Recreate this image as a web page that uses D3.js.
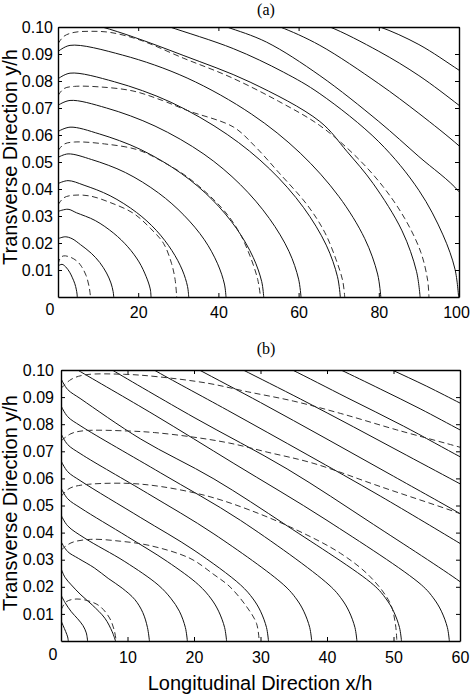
<!DOCTYPE html>
<html lang="en">
	<head>
		<meta charset="utf-8">
		<title>Contours (a) and (b)</title>
		<script src="https://cdn.jsdelivr.net/npm/d3@7"></script>
		<style type="text/css">
			body {
				margin: 0;
				background-color: #ffffff;
			}
			.tick text {
				font-family: "Liberation Sans", Arial, sans-serif;
				font-size: 16px;
				fill: #000;
			}
			.axis path, .axis line {
				stroke: #000;
			}
		</style>
	</head>
	<body>
		<script type="text/javascript">

			//Width and height
			var w = 470;
			var h = 696;

			//Tick labels
			var yTicks = [0.01, 0.02, 0.03, 0.04, 0.05, 0.06, 0.07, 0.08, 0.09, 0.10];
			var xTicksA = [0, 20, 40, 60, 80, 100];
			var xTicksB = [0, 10, 20, 30, 40, 50, 60];

			//Panel (a): solid contours, [x/h, y/h]
			var solidA = [
				[[0,0.0115],[1,0.0121],[1.9,0.0112],[2.9,0.0092],[3.6,0.0071],[4.2,0.0049],[4.55,0.0029],[4.75,0.0011],[4.8,0]],
				[[0,0.0216],[1.8,0.0223],[3.5,0.0216],[5.6,0.0194],[8.3,0.0162],[10.4,0.0128],[12.1,0.0089],[13.2,0.0052],[13.75,0.002],[13.9,0]],
				[[0,0.0317],[2.5,0.0325],[4.6,0.0312],[9.3,0.0283],[13.9,0.0236],[17.4,0.0186],[20.2,0.013],[22,0.0075],[23,0.003],[23.2,0]],
				[[0,0.042],[2.5,0.0431],[6.5,0.0414],[13,0.0375],[19.6,0.0313],[24.5,0.0247],[28.4,0.0172],[31,0.01],[32.3,0.0039],[32.6,0]],
				[[0,0.0517],[2.5,0.053],[8.4,0.0509],[16.8,0.0461],[25.1,0.0385],[31.4,0.0303],[36.5,0.0212],[39.8,0.0123],[41.5,0.0048],[41.9,0]],
				[[0,0.0613],[3,0.0629],[10.3,0.0604],[20.5,0.0547],[30.8,0.0457],[38.5,0.036],[44.6,0.0252],[48.7,0.0146],[50.8,0.0057],[51.3,0]],
				[[0,0.071],[3,0.0728],[12.1,0.07],[24.2,0.0633],[36.4,0.0529],[45.5,0.0416],[52.7,0.0291],[57.6,0.0169],[60,0.0066],[60.6,0]],
				[[0,0.0808],[3,0.0829],[14.1,0.0797],[28.2,0.0721],[42.2,0.0602],[52.8,0.0474],[61.2,0.0332],[66.9,0.0192],[69.7,0.0075],[70.4,0]],
				[[0,0.0909],[3,0.0932],[16.1,0.0896],[32.2,0.0811],[48.3,0.0677],[60.4,0.0533],[70,0.0373],[76.5,0.0216],[79.7,0.0085],[80.5,0]],
				[[4,0.1025],[11,0.1],[18.8,0.0963],[31.2,0.0895],[47.9,0.0796],[65.3,0.065],[72,0.054],[78.6,0.042],[85.8,0.0245],[89.4,0.0095],[90.3,0]],
				[[24,0.102],[27.9,0.1],[43.7,0.092],[56.2,0.0833],[65.3,0.0753],[80,0.0575],[90,0.0395],[96,0.023],[99,0.0103],[99.9,0]],
				[[38,0.102],[42.1,0.1],[52,0.0944],[65.3,0.082],[80,0.065],[90,0.052],[100,0.039],[105,0.027]],
				[[51,0.102],[55.4,0.1],[65.3,0.0932],[80,0.079],[90,0.068],[100,0.056],[105,0.049]],
				[[63,0.102],[67.8,0.1],[80,0.091],[90,0.082],[100,0.071],[105,0.065]],
				[[75,0.102],[80.3,0.1],[90,0.0935],[100,0.084],[105,0.079]]
			];

			//Panel (a): dashed contours
			var dashedA = [
				[[0,0.0119],[0.5,0.0142],[1.3,0.0152],[3,0.0148],[4.8,0.0132],[5.9,0.0112],[7,0.008],[7.8,0.0035],[8.1,0]],
				[[0,0.0341],[1.5,0.0368],[4,0.0377],[8,0.0374],[13,0.035],[18.8,0.031],[23,0.0255],[26.3,0.0199],[28.3,0.0125],[29.2,0.0065],[29.6,0]],
				[[0,0.0542],[1.5,0.0566],[4.1,0.0574],[11.6,0.0567],[19.9,0.0545],[26,0.0502],[32.4,0.0443],[40.7,0.0332],[45,0.0245],[47.8,0.0155],[49.8,0.0065],[50.5,0]],
				[[0,0.0746],[1.5,0.0772],[4.1,0.078],[10.5,0.0778],[18.7,0.0763],[26,0.0728],[32.4,0.069],[43.7,0.063],[49,0.056],[55,0.0462],[62.2,0.034],[66.5,0.024],[69.3,0.014],[71,0.006],[71.5,0]],
				[[0,0.0938],[1.5,0.0966],[4,0.098],[8,0.0984],[13,0.098],[20.4,0.0952],[31.2,0.0885],[42.9,0.0815],[55,0.0725],[65.3,0.0635],[74,0.0525],[81,0.041],[86.5,0.029],[90.5,0.0165],[92.2,0.006],[92.5,0]]
			];

			//Panel (b): solid contours
			var solidB = [
				[[0,0.0075],[0.3,0.0058],[0.7,0.0035],[1,0.0015],[1.1,0]],
				[[0,0.017],[0.6,0.0142],[1.55,0.0108],[2.5,0.0082],[3.3,0.0057],[3.8,0.003],[4,0]],
				[[0,0.0268],[0.6,0.0235],[1.55,0.0207],[3,0.017],[4.7,0.0133],[6.6,0.0084],[7.7,0.0034],[8.2,0]],
				[[0,0.0367],[1,0.033],[2.6,0.0305],[5,0.027],[7.1,0.0231],[9.2,0.0195],[11.1,0.0153],[12.3,0.0105],[13,0.005],[13.3,0]],
				[[0,0.0465],[1,0.0425],[3.6,0.0379],[9.6,0.0293],[14.6,0.0207],[16.5,0.0158],[17.8,0.011],[18.7,0.005],[19,0]],
				[[0,0.0565],[1,0.0525],[3,0.049],[10,0.0385],[16,0.0293],[20.7,0.0207],[22.6,0.0155],[23.7,0.011],[24.6,0.005],[24.9,0]],
				[[0,0.0665],[1,0.0625],[3,0.059],[12,0.0455],[20,0.0335],[27,0.0207],[28.9,0.0155],[30,0.011],[30.9,0.005],[31.2,0]],
				[[0,0.0765],[1,0.0725],[3,0.069],[13,0.0545],[23,0.0395],[33.5,0.0207],[35.4,0.0155],[36.5,0.011],[37.4,0.005],[37.7,0]],
				[[0,0.0868],[1,0.0828],[3,0.0793],[15,0.062],[27,0.0445],[40.3,0.0207],[42.2,0.0155],[43.3,0.011],[44.2,0.005],[44.5,0]],
				[[0,0.0968],[1,0.0928],[3,0.0893],[12,0.0745],[23,0.0598],[34,0.0425],[47,0.0207],[48.9,0.0155],[50,0.011],[50.9,0.005],[51.2,0]],
				[[0.5,0.103],[2.5,0.1],[14,0.0835],[26,0.0655],[40,0.0445],[54.2,0.0207],[56.1,0.0155],[57.2,0.011],[58.1,0.005],[58.4,0]],
				[[5.7,0.103],[7.7,0.1],[20,0.0825],[34,0.0635],[47,0.043],[60,0.0219],[62,0.018]],
				[[12,0.103],[14,0.1],[25,0.0852],[37,0.0688],[48,0.0535],[60,0.036],[62,0.033]],
				[[18.5,0.103],[20.8,0.1],[30,0.088],[40,0.0745],[50,0.0608],[60,0.047],[62,0.044]],
				[[25,0.103],[27.4,0.1],[36,0.0893],[44,0.079],[52,0.0685],[60,0.058],[62,0.0553]],
				[[32.2,0.103],[34.8,0.1],[43,0.0898],[51.5,0.0793],[60,0.068],[62,0.0655]],
				[[39.5,0.103],[42.1,0.1],[48,0.093],[54,0.0857],[60,0.0779],[62,0.0753]],
				[[47.2,0.103],[49.8,0.1],[55,0.094],[60,0.0878],[62,0.0853]]
			];

			//Panel (b): dashed contours
			var dashedB = [
				[[0,0.0114],[0.8,0.0145],[2.4,0.0155],[4.5,0.0145],[5.9,0.0127],[7.3,0.0085],[8,0.004],[8.3,0]],
				[[0,0.0335],[1.5,0.0362],[4.4,0.0375],[9,0.0368],[13.4,0.0352],[19.4,0.0305],[23,0.0245],[25.4,0.02],[27.9,0.0127],[29.4,0.0065],[29.8,0]],
				[[0,0.0533],[1.2,0.0562],[3,0.0575],[9.6,0.0582],[15,0.057],[22,0.0535],[28.4,0.0483],[35.4,0.041],[42,0.0324],[46.5,0.0237],[49.5,0.0139],[50.3,0.006],[50.5,0]],
				[[0,0.0738],[1.5,0.0765],[3.5,0.0776],[10,0.0775],[14.1,0.0769],[20,0.0752],[25.4,0.073],[31,0.0697],[37.9,0.0656],[48,0.057],[60,0.047],[62,0.045]],
				[[0,0.0932],[1.5,0.0965],[3.6,0.0982],[9.6,0.0984],[14.6,0.0975],[22.1,0.0951],[28,0.092],[35,0.0885],[42,0.084],[50.5,0.0779],[60,0.0715],[62,0.07]]
			];

			//Create SVG element
			var svg = d3.select("body")
						.append("svg")
						.attr("width", w)
						.attr("height", h);

			var drawPanel = function(id, box, xMax, xTicks, solid, dashed, padX, padY) {

				var xScale = d3.scaleLinear()
							   .domain([0, xMax])
							   .range([box.left, box.right]);

				var yScale = d3.scaleLinear()
							   .domain([0, 0.1])
							   .range([box.bottom, box.top]);

				var line = d3.line()
							 .x(function(d) { return xScale(d[0]); })
							 .y(function(d) { return yScale(d[1]); })
							 .curve(d3.curveCatmullRom.alpha(0.5));

				//Clip the curves to the plot box
				svg.append("clipPath")
				   .attr("id", id)
				   .append("rect")
				   .attr("x", box.left)
				   .attr("y", box.top)
				   .attr("width", box.right - box.left)
				   .attr("height", box.bottom - box.top);

				var g = svg.append("g").attr("clip-path", "url(#" + id + ")");

				g.selectAll("path.solid")
				 .data(solid)
				 .enter()
				 .append("path")
				 .attr("class", "solid")
				 .attr("d", line)
				 .attr("fill", "none")
				 .attr("stroke", "#111")
				 .attr("stroke-width", 1);

				g.selectAll("path.dashed")
				 .data(dashed)
				 .enter()
				 .append("path")
				 .attr("class", "dashed")
				 .attr("d", line)
				 .attr("fill", "none")
				 .attr("stroke", "#333")
				 .attr("stroke-width", 1)
				 .attr("stroke-dasharray", "6,3.5");

				//Create X axis (bottom, with labels)
				var xAxis = d3.axisBottom(xScale)
							  .tickValues(xTicks)
							  .tickSizeInner(-4)
							  .tickSizeOuter(0)
							  .tickPadding(padX);

				var gx = svg.append("g")
							.attr("class", "axis")
							.attr("transform", "translate(0," + box.bottom + ")")
							.call(xAxis);

				//the zero sits lower left, as in the original
				gx.selectAll(".tick text")
				  .filter(function(d) { return d === 0; })
				  .attr("text-anchor", "end")
				  .attr("x", -4)
				  .attr("dy", "0.5em");

				//keep the last label inside the page
				gx.selectAll(".tick text")
				  .filter(function(d) { return d === 100; })
				  .attr("x", -3);

				//Create Y axis (left, with labels)
				var yAxis = d3.axisLeft(yScale)
							  .tickValues(yTicks)
							  .tickFormat(d3.format(".2f"))
							  .tickSizeInner(-4)
							  .tickSizeOuter(0)
							  .tickPadding(padY);

				svg.append("g")
				   .attr("class", "axis")
				   .attr("transform", "translate(" + box.left + ",0)")
				   .call(yAxis);

				//Top and right edges of the box, ticks only
				svg.append("g")
				   .attr("class", "axis")
				   .attr("transform", "translate(0," + box.top + ")")
				   .call(d3.axisTop(xScale).tickValues(xTicks).tickSizeInner(-4).tickSizeOuter(0).tickFormat(""));

				svg.append("g")
				   .attr("class", "axis")
				   .attr("transform", "translate(" + box.right + ",0)")
				   .call(d3.axisRight(yScale).tickValues(yTicks).tickSizeInner(-4).tickSizeOuter(0).tickFormat(""));

				svg.selectAll(".axis .domain").attr("stroke-width", 1.4);
			};

			drawPanel("clipA", {left: 58, right: 459, top: 27, bottom: 297}, 100, xTicksA, solidA, dashedA, 10, 5);
			drawPanel("clipB", {left: 61, right: 460, top: 370, bottom: 641}, 60, xTicksB, solidB, dashedB, 11, 7);

			//Panel titles
			svg.append("text")
			   .attr("x", 266)
			   .attr("y", 15)
			   .attr("text-anchor", "middle")
			   .style("font-family", "'Liberation Serif', 'Times New Roman', serif")
			   .style("font-size", "16px")
			   .text("(a)");

			svg.append("text")
			   .attr("x", 266)
			   .attr("y", 354)
			   .attr("text-anchor", "middle")
			   .style("font-family", "'Liberation Serif', 'Times New Roman', serif")
			   .style("font-size", "16px")
			   .text("(b)");

			//Axis titles
			var labelFont = "'Liberation Sans', Arial, sans-serif";

			svg.append("text")
			   .attr("transform", "translate(16.5,157) rotate(-90)")
			   .attr("text-anchor", "middle")
			   .style("font-family", labelFont)
			   .style("font-size", "20px")
			   .text("Transverse Direction y/h");

			svg.append("text")
			   .attr("transform", "translate(16.5,503) rotate(-90)")
			   .attr("text-anchor", "middle")
			   .style("font-family", labelFont)
			   .style("font-size", "20px")
			   .text("Transverse Direction y/h");

			svg.append("text")
			   .attr("x", 260)
			   .attr("y", 690)
			   .attr("text-anchor", "middle")
			   .style("font-family", labelFont)
			   .style("font-size", "20px")
			   .text("Longitudinal Direction x/h");

		</script>
	</body>
</html>
